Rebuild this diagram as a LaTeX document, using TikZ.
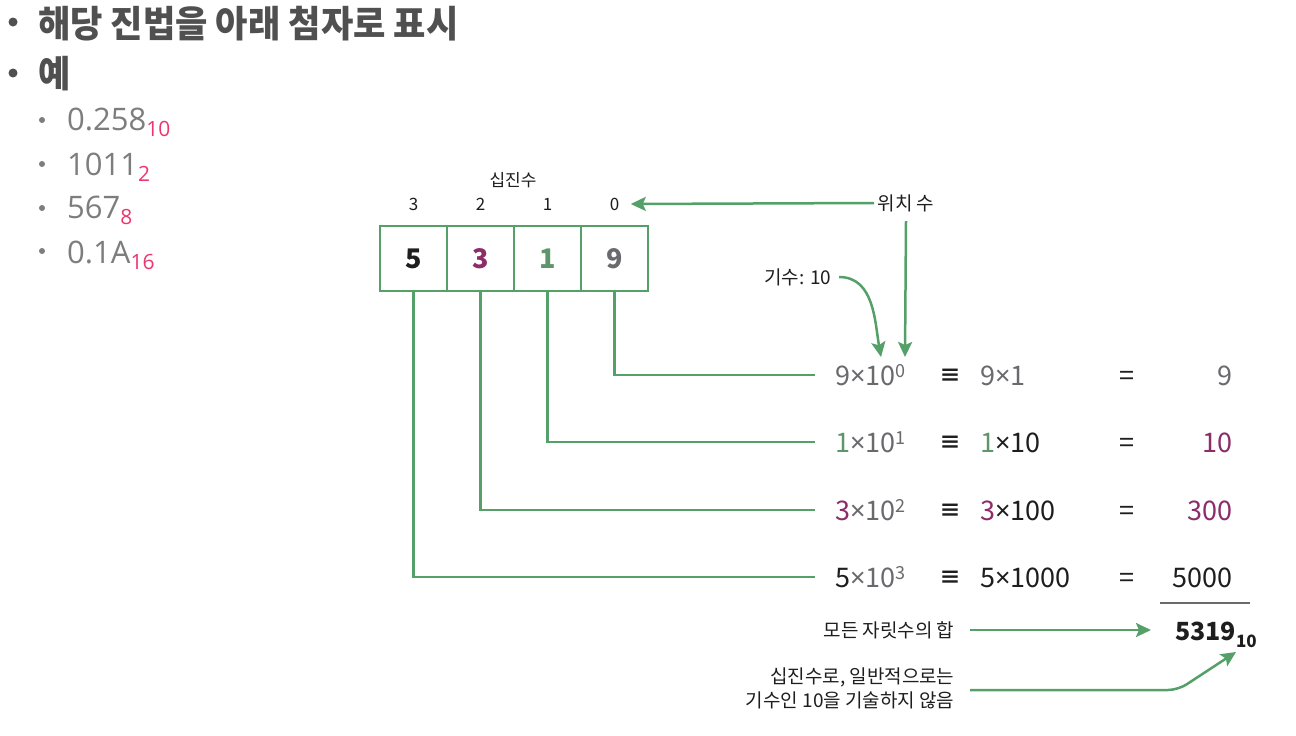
\documentclass[tikz,border=0pt]{standalone}
\usepackage{fontspec}
\usetikzlibrary{arrows.meta}
\setmainfont{Noto Sans CJK KR}
\newfontfamily\headfont[FakeStretch=0.95]{Noto Sans CJK KR}
\newfontfamily\latinfont{Open Sans}
\newfontfamily\notosans{Noto Sans}
\definecolor{grn}{RGB}{84,160,104}
\definecolor{mag}{RGB}{140,45,105}
\definecolor{dgrn}{RGB}{95,150,105}
\definecolor{gry}{RGB}{105,105,110}
\definecolor{dark}{RGB}{30,30,30}
\definecolor{pinkc}{RGB}{235,55,110}
\definecolor{hgray}{RGB}{80,80,80}
\definecolor{sgray}{RGB}{125,125,125}
\newcommand\fs[1]{\fontsize{#1}{#1}\selectfont}
\newcommand\mysup[1]{\raisebox{8pt}{\fs{18}#1}}
\newcommand\tms{{\notosans ×}}
\newcommand\pinksub[1]{\raisebox{-6pt}{\color{pinkc}\fs{21}#1}}
\tikzset{
  cell/.style={draw=grn, line width=2pt, minimum width=67pt, minimum height=65pt, inner sep=0pt, font=\bfseries\fs{27}},
  posn/.style={font=\fs{17}, text=dark},
  lbl/.style={font=\fs{19}, text=dark},
  head/.style={anchor=base west, inner sep=0pt, text=hgray, font=\headfont\bfseries\fs{37}},
  sub/.style={anchor=base west, inner sep=0pt, text=sgray, font=\latinfont\fs{31}},
  rowt/.style={anchor=base west, inner sep=0pt, font=\fs{27}},
  eqv/.style={anchor=base, inner sep=0pt, font=\bfseries\fs{22}, text=dark},
  eqs/.style={anchor=base, inner sep=0pt, font=\fs{27}, text=dark},
  valt/.style={anchor=base east, inner sep=0pt, font=\fs{27}},
  conn/.style={draw=grn, line width=2.5pt},
  arr/.style={conn, -{Stealth[length=15pt,width=14pt,inset=3pt]}},
  hbul/.style={fill=hgray},
  sbul/.style={fill=sgray}
}
\begin{document}
\begin{tikzpicture}[x=1pt,y=-1pt]
\useasboundingbox[fill=white] (0,0) rectangle (1296,736);
% heading bullets
\fill[hbul] (13,22) circle (4.5pt);
\node[head] (h1) at (38,37) {해당 진법을 아래 첨자로 표시};
\fill[hbul] (13,73) circle (4.5pt);
\node[head] (h2) at (38,87) {예};
% sub bullets
\fill[sbul] (42,120) circle (3pt);
\node[sub] (s1) at (67,130) {0.258\pinksub{10}};
\fill[sbul] (42,164) circle (3pt);
\node[sub] (s2) at (67,175) {1011\pinksub{2}};
\fill[sbul] (42,208) circle (3pt);
\node[sub] (s3) at (67,218) {567\pinksub{8}};
\fill[sbul] (42,251) circle (3pt);
\node[sub] (s4) at (67,263) {0.1A\pinksub{16}};
% digit cells
\node[cell, text=dark] (c3) at (413.5,258.5) {5};
\node[cell, text=mag] (c2) at (480.5,258.5) {3};
\node[cell, text=dgrn] (c1) at (547.5,258.5) {1};
\node[cell, text=gry] (c0) at (614.5,258.5) {9};
% position numbers
\node[posn] (p3) at (413.5,204) {3};
\node[posn] (p2) at (480.5,204) {2};
\node[posn] (p1) at (547.5,204) {1};
\node[posn] (p0) at (614.5,204) {0};
\node[posn] (dec) at (513,180) {십진수};
% labels
\node[lbl] (wichi) at (906,203) {위치 수};
\node[lbl] (kisu) at (798,277) {기수: 10};
\coordinate (wt) at (905,357);
\coordinate (kt) at (881,357);
\draw[arr] (wichi.west) -- ([xshift=8pt]p0.east);
\draw[arr] ([yshift=-6pt]wichi.south) -- (wt);
\draw[arr] ([xshift=4pt]kisu.east) to[out=0,in=100] (kt);
% rows
\node[rowt] (r0) at (835,385) {\color{gry}9\tms10\mysup{0}};
\node[rowt] (r1) at (835,452) {\color{dgrn}1\color{gry}\tms10\mysup{1}};
\node[rowt] (r2) at (835,520) {\color{mag}3\color{gry}\tms10\mysup{2}};
\node[rowt] (r3) at (835,587) {\color{dark}5\color{gry}\tms10\mysup{3}};
\node[eqv] (e0) at (950,383) {≡};
\node[eqv] (e1) at (950,450) {≡};
\node[eqv] (e2) at (950,518) {≡};
\node[eqv] (e3) at (950,585) {≡};
\node[rowt] (m0) at (980,385) {\color{gry}9\tms1};
\node[rowt] (m1) at (980,452) {\color{dgrn}1\color{dark}\tms10};
\node[rowt] (m2) at (980,520) {\color{mag}3\color{dark}\tms100};
\node[rowt] (m3) at (980,587) {\color{dark}5\tms1000};
\node[eqs] (q0) at (1127,385) {=};
\node[eqs] (q1) at (1127,452) {=};
\node[eqs] (q2) at (1127,520) {=};
\node[eqs] (q3) at (1127,587) {=};
\node[valt, text=gry] (v0) at (1233,385) {9};
\node[valt, text=mag] (v1) at (1233,452) {10};
\node[valt, text=mag] (v2) at (1233,520) {300};
\node[valt, text=dark] (v3) at (1233,587) {5000};
% connectors from cells
\draw[conn] (c0.south) |- ([xshift=-20pt,yshift=10pt]r0.base west);
\draw[conn] (c1.south) |- ([xshift=-20pt,yshift=10pt]r1.base west);
\draw[conn] (c2.south) |- ([xshift=-20pt,yshift=10pt]r2.base west);
\draw[conn] (c3.south) |- ([xshift=-20pt,yshift=10pt]r3.base west);
% sum rule
\draw[gry, line width=1.5pt] (1160,603) -- (1250,603);
% total
\node[lbl, anchor=east] (sum) at (958,630) {모든 자릿수의 합};
\node[anchor=base west, inner sep=0pt, text=dark, font=\bfseries\fs{25}] (tot) at (1175,640) {5319\raisebox{-7pt}{\fs{17}10}};
\draw[arr] ([xshift=12pt]sum.east) -- ([xshift=-24pt]sum.east -| tot.west);
\node[lbl, anchor=east, align=right, font={\fontsize{19}{24}\selectfont}] (note) at (958,688) {십진수로, 일반적으로는\\기수인 10을 기술하지 않음};
\coordinate (nb) at (1178,690);
\coordinate (nt) at (1236,652);
\draw[arr, rounded corners=10pt] ([xshift=12pt]note.east |- nb) -- (nb) -- (nt);
\end{tikzpicture}
\end{document}
